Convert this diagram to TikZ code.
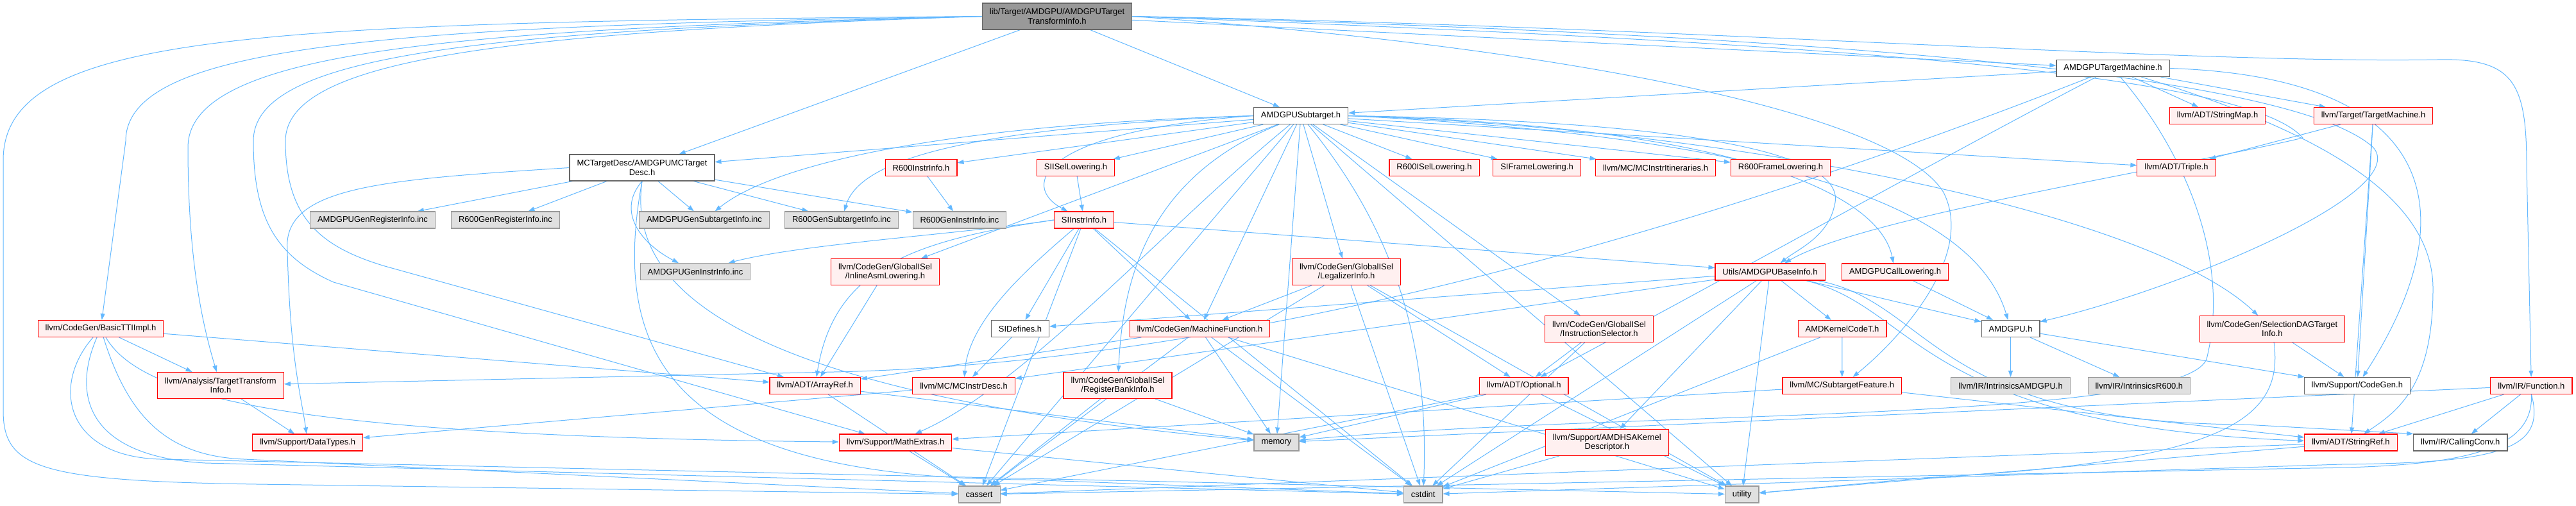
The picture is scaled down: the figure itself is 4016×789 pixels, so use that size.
\documentclass[tikz,border=0pt]{standalone}
\usepackage{fontspec}
\setmainfont{Liberation Sans}
\usetikzlibrary{arrows.meta}
\definecolor{edgeblue}{HTML}{63B8FF}
\definecolor{redline}{HTML}{FF0000}
\definecolor{redfill}{HTML}{FFF0F0}
\definecolor{sysfill}{HTML}{E0E0E0}
\definecolor{sysline}{HTML}{999999}
\definecolor{rootfill}{HTML}{999999}
\definecolor{darkline}{HTML}{666666}
\pgfdeclarelayer{bg}
\pgfsetlayers{bg,main}

\begin{document}
\begin{tikzpicture}[x=1pt, y=-1pt,
	every node/.style={font=\fontsize{13}{14.5}\selectfont, align=center, inner xsep=11.5pt, inner ysep=3pt, minimum height=26pt, line width=1.1pt},
	rootbox/.style={draw=darkline, fill=rootfill},
	filebox/.style={draw=darkline, fill=white},
	trunc/.style={draw=redline, fill=redfill},
	sysbox/.style={draw=sysline, fill=sysfill},
	twoline/.style={minimum height=41pt},
	dep/.style={draw=edgeblue, line width=1pt, -{Triangle[length=10pt,width=7pt]}}]
	\useasboundingbox (0,0) rectangle (4016,789);
	\node[rootbox, twoline] (root) at (1648,25.5) {lib/Target/AMDGPU/AMDGPUTarget\\TransformInfo.h};
	\foreach \n/\x/\y/\lbl in {subtarget/2028/180.5/AMDGPUSubtarget.h, tm/3294/106.5/AMDGPUTargetMachine.h, sidefines/1590.5/512.5/SIDefines.h, amdgpu/3134.5/512.5/AMDGPU.h, codegen/3674.8/601.5/{llvm/Support/CodeGen.h}, callingconv/3835.8/690/{llvm/IR/CallingConv.h}} {
		\node[filebox] (\n) at (\x,\y) {\lbl};
	}
	\node[filebox, twoline] (mcdesc) at (1001,261.5) {MCTargetDesc/AMDGPUMCTarget\\Desc.h};
	\foreach \n/\x/\y/\lbl in {r600instr/1436/261.5/R600InstrInfo.h, sisel/1677/261.5/SIISelLowering.h, r600isel/2236/261.5/R600ISelLowering.h, siframe/2396/261.5/SIFrameLowering.h, mcitin/2581/261.5/{llvm/MC/MCInstrItineraries.h}, r600frame/2776/261.5/R600FrameLowering.h, triple/3393/261.5/{llvm/ADT/Triple.h}, stringmap/3457/180.5/{llvm/ADT/StringMap.h}, tgtmachine/3700/180.5/{llvm/Target/TargetMachine.h}, siinstr/1690/343/SIInstrInfo.h, baseinfo/2759.5/424/{Utils/AMDGPUBaseInfo.h}, calllow/2954.5/424/AMDGPUCallLowering.h, machfunc/1870.5/512.5/{llvm/CodeGen/MachineFunction.h}, kernelcode/2872/512.5/AMDKernelCodeT.h, basictti/157/512.5/{llvm/CodeGen/BasicTTIImpl.h}, arrayref/1270.7/601.5/{llvm/ADT/ArrayRef.h}, mcinstrdesc/1502.5/601.5/{llvm/MC/MCInstrDesc.h}, optional/2375.7/601.5/{llvm/ADT/Optional.h}, subfeat/2871.7/601.5/{llvm/MC/SubtargetFeature.h}, function/3946.4/601.5/{llvm/IR/Function.h}, datatypes/479.7/690/{llvm/Support/DataTypes.h}, mathextras/1396/690/{llvm/Support/MathExtras.h}, stringref/3665/690/{llvm/ADT/StringRef.h}} {
		\node[trunc] (\n) at (\x,\y) {\lbl};
	}
	\foreach \n/\x/\y/\lbl in {inlineasm/1380/424/{llvm/CodeGen/GlobalISel\\/InlineAsmLowering.h}, legalizer/2099/424/{llvm/CodeGen/GlobalISel\\/LegalizerInfo.h}, instrsel/2493/513/{llvm/CodeGen/GlobalISel\\/InstructionSelector.h}, seldag/3542.4/513/{llvm/CodeGen/SelectionDAGTarget\\Info.h}, tti/344/601/{llvm/Analysis/TargetTransform\\Info.h}, regbank/1742.5/601/{llvm/CodeGen/GlobalISel\\/RegisterBankInfo.h}, amdhsa/2505.3/690/{llvm/Support/AMDHSAKernel\\Descriptor.h}} {
		\node[trunc, twoline] (\n) at (\x,\y) {\lbl};
	}
	\foreach \n/\x/\y/\lbl in {genreg/581/343/AMDGPUGenRegisterInfo.inc, r600reg/788/343/R600GenRegisterInfo.inc, gensub/1098/343/AMDGPUGenSubtargetInfo.inc, r600sub/1312/343/R600GenSubtargetInfo.inc, r600geninstr/1496/343/R600GenInstrInfo.inc, geninstr/1084/423.7/AMDGPUGenInstrInfo.inc, intramdgpu/3134.5/601.5/{llvm/IR/IntrinsicsAMDGPU.h}, intrr600/3334.8/601.5/{llvm/IR/IntrinsicsR600.h}, memory/1990/690/memory, cassert/1526.6/771/cassert, cstdint/2218.7/771/cstdint, utility/2715.7/771/utility} {
		\node[sysbox] (\n) at (\x,\y) {\lbl};
	}
	\begin{pgfonlayer}{bg}
	% straight includes
	\foreach \a/\b in {root/subtarget, root/tm, root/mcdesc, tm/subtarget, tm/stringmap, tm/tgtmachine, subtarget/mcdesc, subtarget/r600instr, subtarget/sisel, subtarget/r600isel, subtarget/siframe, subtarget/mcitin, subtarget/r600frame, subtarget/triple, subtarget/inlineasm, subtarget/legalizer, subtarget/instrsel, subtarget/machfunc, subtarget/memory, subtarget/utility, subtarget/cassert, mcdesc/genreg, mcdesc/r600reg, mcdesc/gensub, mcdesc/r600sub, mcdesc/r600geninstr, r600instr/r600geninstr, sisel/siinstr, siinstr/sidefines, siinstr/machfunc, siinstr/baseinfo, siinstr/cstdint, siinstr/cassert, inlineasm/arrayref, legalizer/machfunc, legalizer/optional, legalizer/cassert, legalizer/cstdint, legalizer/utility, machfunc/arrayref, machfunc/memory, machfunc/cassert, machfunc/cstdint, machfunc/utility, regbank/cassert, regbank/memory, sidefines/mcinstrdesc, mcinstrdesc/datatypes, instrsel/optional, instrsel/cstdint, optional/memory, optional/cassert, optional/utility, amdhsa/cstdint, baseinfo/amdgpu, baseinfo/kernelcode, baseinfo/sidefines, baseinfo/mcinstrdesc, baseinfo/amdhsa, baseinfo/cstdint, baseinfo/utility, kernelcode/subfeat, kernelcode/cstdint, subfeat/mathextras, subfeat/stringref, calllow/amdgpu, amdgpu/intramdgpu, amdgpu/intrr600, amdgpu/codegen, tgtmachine/triple, tgtmachine/codegen, tgtmachine/stringref, seldag/codegen, function/stringref, function/callingconv, function/memory, stringref/cassert, stringref/utility, arrayref/cassert, arrayref/memory, mathextras/cassert, mathextras/cstdint, tti/datatypes, basictti/tti, basictti/arrayref} {
		\draw[dep] (\a) -- (\b);
	}
	% routed round the left
	\draw[dep] (root.west) .. controls (600,40) and (196,70) .. (196,220) -- (basictti);
	\draw[dep] (root.west) .. controls (700,45) and (293,80) .. (293,230) .. controls (293,420) and (320,520) .. (tti);
	\draw[dep] (root.west) .. controls (800,50) and (445,90) .. (445,220) .. controls (445,340) and (500,385) .. (600,415) -- (arrayref);
	\draw[dep] (root.west) .. controls (750,48) and (395,85) .. (395,220) .. controls (395,340) and (430,400) .. (520,440) -- (mathextras);
	\draw[dep] (root.west) .. controls (400,35) and (5,50) .. (5,250) -- (5,640) .. controls (5,730) and (60,750) .. (400,755) -- (cassert);
	% routed round the right
	\draw[dep] (root.east) .. controls (2600,40) and (3400,100) .. (3800,93) .. controls (3920,90) and (3939,130) .. (3939,260) -- (function);
	\draw[dep] (root.east) .. controls (2400,70) and (2950,170) .. (3030,300) .. controls (3080,400) and (2960,530) .. (subfeat);
	\draw[dep] (root.east) .. controls (2900,55) and (3580,120) .. (3700,230) .. controls (3760,300) and (3400,450) .. (amdgpu);
	\draw[dep] (root.east) .. controls (2800,65) and (3500,110) .. (3590,215) .. controls (3400,260) and (2900,340) .. (baseinfo);
	\draw[dep] (tm) .. controls (2750,320) and (2000,565) .. (1300,580) -- (tti);
	\draw[dep] (tm) .. controls (3000,260) and (2700,430) .. (optional);
	\draw[dep] (tm) .. controls (3600,200) and (3793,300) .. (3793,450) .. controls (3793,600) and (3740,640) .. (stringref);
	\draw[dep] (tm.east) .. controls (3800,120) and (3850,330) .. (codegen);
	\draw[dep] (tm) .. controls (3400,230) and (3480,400) .. (3440,560) .. controls (3400,660) and (2500,640) .. (memory);
	% subtarget curves
	\draw[dep] (subtarget.west) .. controls (1450,195) and (1200,260) .. (gensub);
	\draw[dep] (subtarget.west) .. controls (1500,200) and (1340,250) .. (r600sub);
	\draw[dep] (subtarget.west) .. controls (1620,205) and (1590,290) .. (siinstr);
	\draw[dep] (subtarget) .. controls (1780,280) and (1750,450) .. (regbank);
	\draw[dep] (subtarget.east) .. controls (2700,200) and (3350,330) .. (seldag);
	\draw[dep] (subtarget.east) .. controls (2700,195) and (2930,300) .. (calllow);
	\draw[dep] (subtarget.east) .. controls (2700,190) and (2880,250) .. (2860,320) .. controls (2850,370) and (2800,390) .. (baseinfo);
	\draw[dep] (subtarget.east) .. controls (2800,215) and (3080,330) .. (amdgpu);
	\draw[dep] (subtarget) .. controls (1820,350) and (1600,600) .. (mathextras);
	\draw[dep] (subtarget) .. controls (2150,330) and (2230,500) .. (cstdint);
	% siinstr and mcdesc curves
	\draw[dep] (siinstr.west) .. controls (1500,365) and (1250,380) .. (geninstr);
	\draw[dep] (siinstr.west) .. controls (1420,375) and (1300,420) .. (arrayref);
	\draw[dep] (siinstr) .. controls (1600,420) and (1510,500) .. (mcinstrdesc);
	\draw[dep] (mcdesc.south) .. controls (960,330) and (1000,380) .. (geninstr);
	\draw[dep] (mcdesc.west) .. controls (600,280) and (440,290) .. (448,390) .. controls (452,560) and (470,620) .. (datatypes);
	\draw[dep] (mcdesc.south) .. controls (980,430) and (1100,610) .. (memory);
	\draw[dep] (mcdesc.south) .. controls (950,560) and (1050,745) .. (1600,748) -- (cstdint);
	% bottom runs
	\draw[dep] (basictti) .. controls (220,620) and (450,680) .. (mathextras);
	\draw[dep] (basictti) .. controls (200,650) and (260,711) .. (380,716) -- (cassert);
	\draw[dep] (basictti) .. controls (110,620) and (140,712) .. (320,722) -- (cstdint);
	\draw[dep] (basictti) .. controls (80,600) and (100,712) .. (250,716) -- (utility);
	\draw[dep] (baseinfo) .. controls (2990,480) and (2990,665) .. (stringref);
	\draw[dep] (baseinfo) .. controls (3010,470) and (3010,660) .. (3500,662) -- (callingconv.north west);
	\draw[dep] (function.south) .. controls (3950,700) and (3850,728) .. (3600,730) -- (cassert);
	\draw[dep] (function.south) .. controls (3970,700) and (3900,722) .. (3650,724) -- (cstdint);
	\draw[dep] (seldag) .. controls (3560,650) and (3480,720) .. (3000,745) -- (utility);
	\end{pgfonlayer}
\end{tikzpicture}
\end{document}
